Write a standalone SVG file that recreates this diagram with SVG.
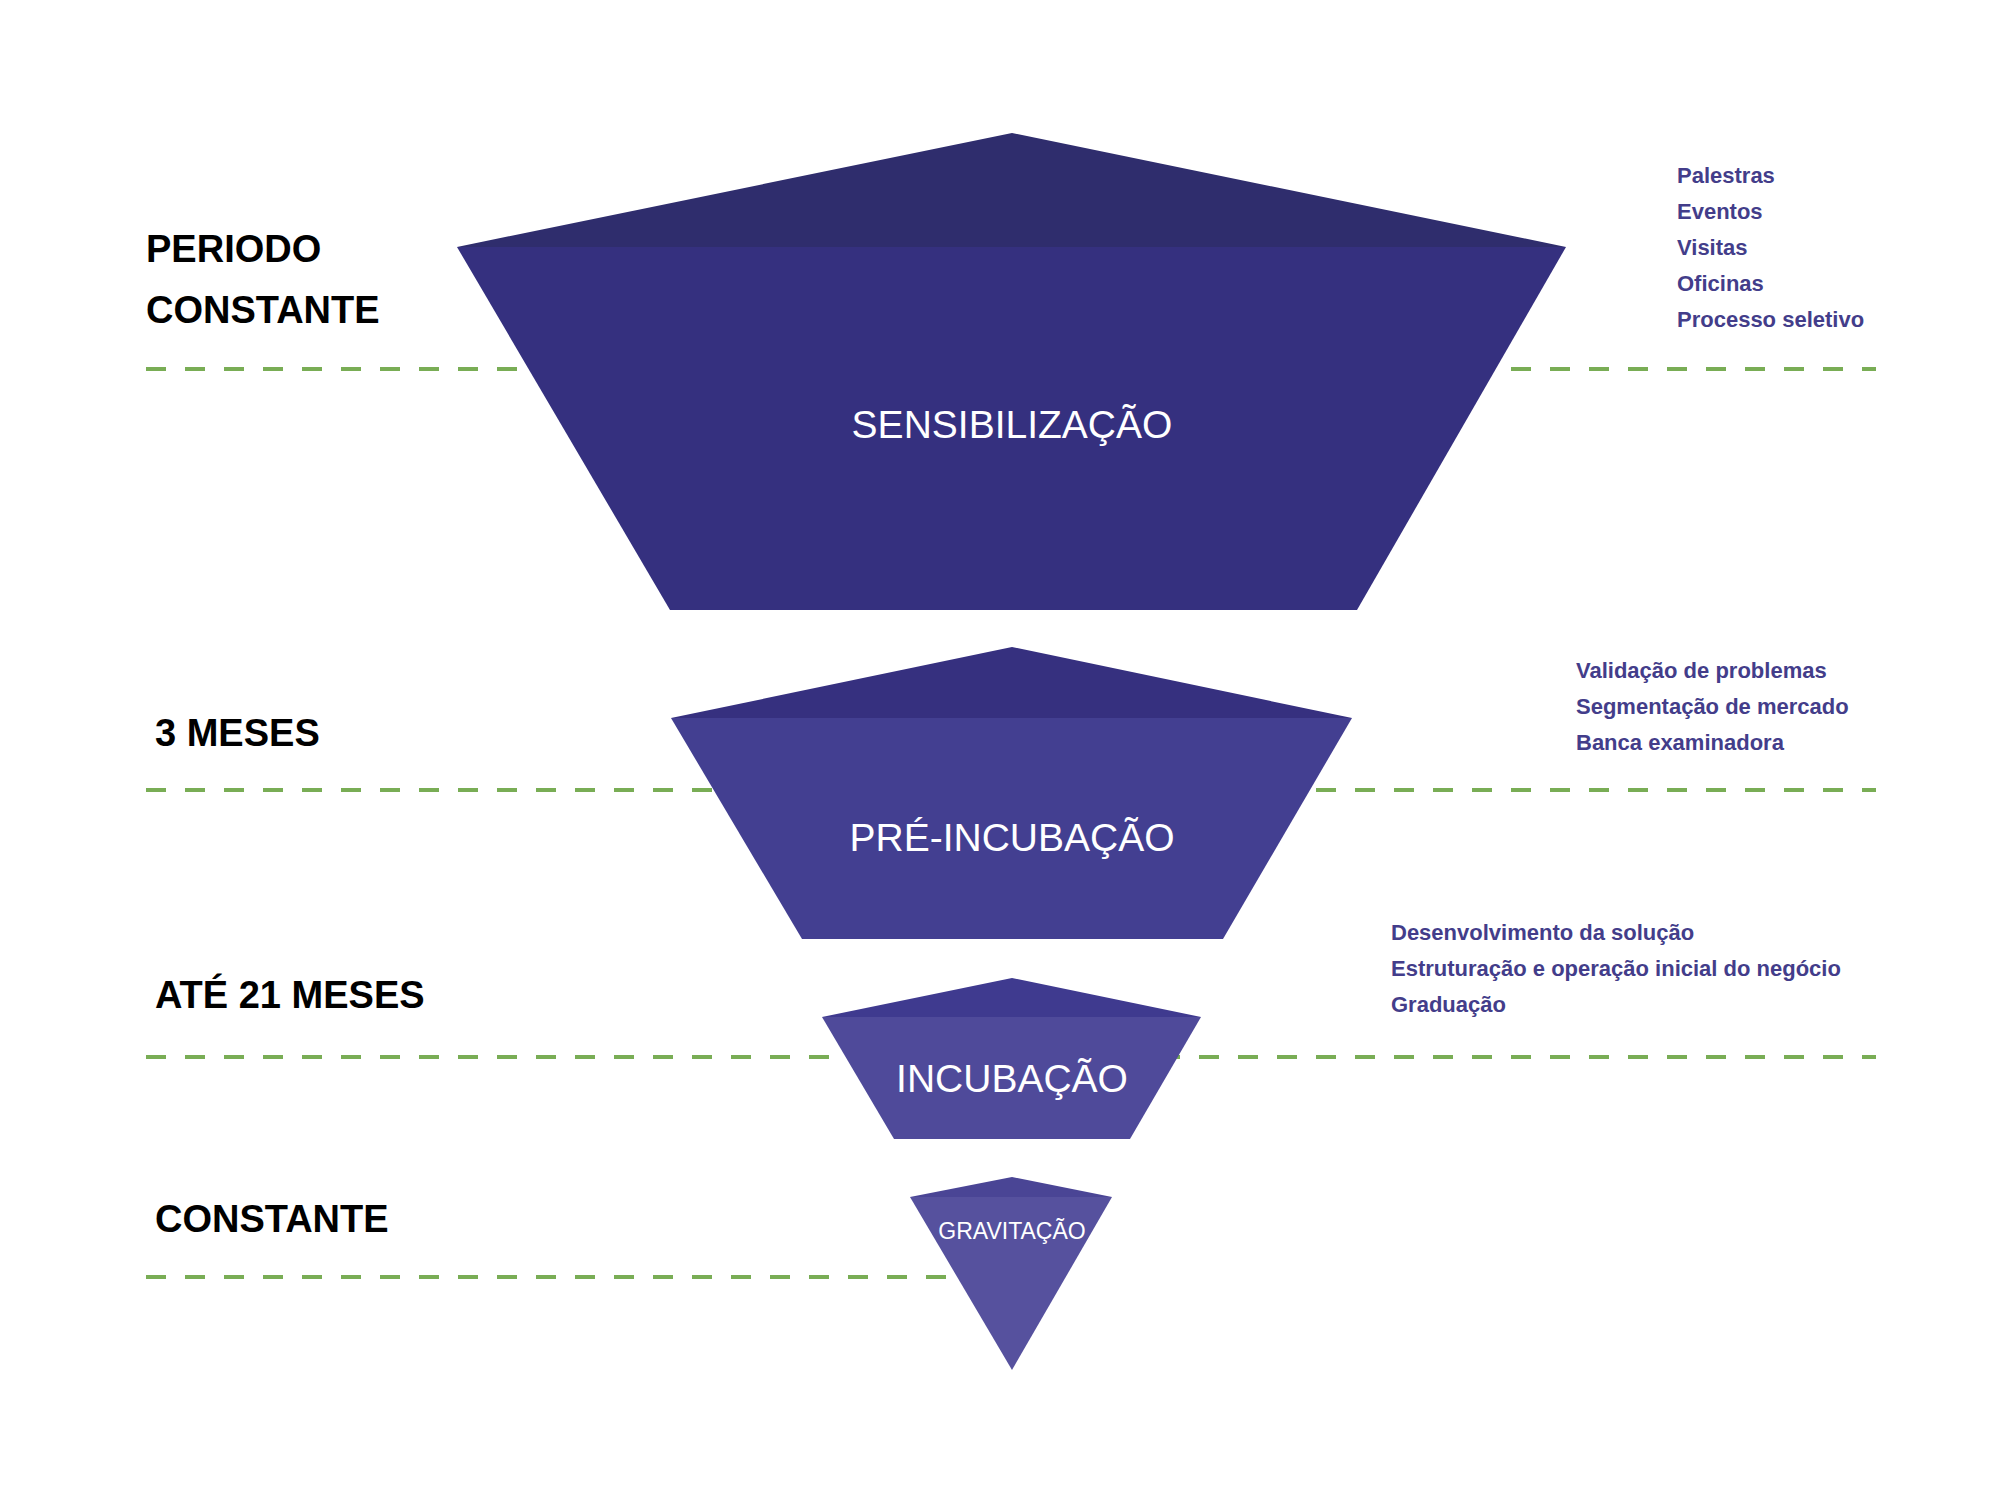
<svg xmlns="http://www.w3.org/2000/svg" width="2000" height="1500" viewBox="0 0 2000 1500">
<style>
.dash{stroke:#79ad55;stroke-width:4;stroke-dasharray:20 19;fill:none}
.lbl{font-family:"Liberation Sans",Arial,sans-serif;font-weight:bold;font-size:38px;fill:#000}
.note{font-family:"Liberation Sans",Arial,sans-serif;font-weight:bold;font-size:22px;fill:#433d8a}
.in{font-family:"Liberation Sans",Arial,sans-serif;fill:#fff;text-anchor:middle}
</style>
<rect width="2000" height="1500" fill="#fff"/>
<g id="connectors">
<line class="dash" x1="146" y1="369" x2="1876" y2="369"/>
<line class="dash" x1="146" y1="790" x2="1876" y2="790"/>
<line class="dash" x1="146" y1="1057" x2="1876" y2="1057"/>
<line class="dash" x1="146" y1="1277" x2="960" y2="1277"/>
</g>
<g id="sensibilizacao">
<polygon points="1012,133 1566,247 457,247" fill="#2f2d6d"/>
<polygon points="457,247 1566,247 1357,610 670,610" fill="#35307f"/>
<text class="in" x="1012" y="438" font-size="39">SENSIBILIZAÇÃO</text>
</g>
<g id="pre-incubacao">
<polygon points="1012,647 1352,718 671,718" fill="#36307f"/>
<polygon points="671,718 1352,718 1223,939 802,939" fill="#433f91"/>
<text class="in" x="1012" y="851" font-size="39">PRÉ-INCUBAÇÃO</text>
</g>
<g id="incubacao">
<polygon points="1012,978 1201,1017 822,1017" fill="#3f3a8f"/>
<polygon points="822,1017 1201,1017 1130,1139 894,1139" fill="#4f4a9a"/>
<text class="in" x="1012" y="1092" font-size="39">INCUBAÇÃO</text>
</g>
<g id="gravitacao">
<polygon points="1012,1177 1112,1197 910,1197" fill="#4a4595"/>
<polygon points="910,1197 1112,1197 1012,1370" fill="#56519e"/>
<text class="in" x="1012" y="1239" font-size="23">GRAVITAÇÃO</text>
</g>
<g id="left-labels">
<text class="lbl" x="146" y="262">PERIODO</text>
<text class="lbl" x="146" y="323">CONSTANTE</text>
<text class="lbl" x="155" y="746">3 MESES</text>
<text class="lbl" x="155" y="1008">ATÉ 21 MESES</text>
<text class="lbl" x="155" y="1232">CONSTANTE</text>
</g>
<g id="notes">
<text class="note" x="1677" y="183">Palestras</text>
<text class="note" x="1677" y="219">Eventos</text>
<text class="note" x="1677" y="255">Visitas</text>
<text class="note" x="1677" y="291">Oficinas</text>
<text class="note" x="1677" y="327">Processo seletivo</text>
<text class="note" x="1576" y="678">Validação de problemas</text>
<text class="note" x="1576" y="714">Segmentação de mercado</text>
<text class="note" x="1576" y="750">Banca examinadora</text>
<text class="note" x="1391" y="940">Desenvolvimento da solução</text>
<text class="note" x="1391" y="976">Estruturação e operação inicial do negócio</text>
<text class="note" x="1391" y="1012">Graduação</text>
</g>
</svg>
